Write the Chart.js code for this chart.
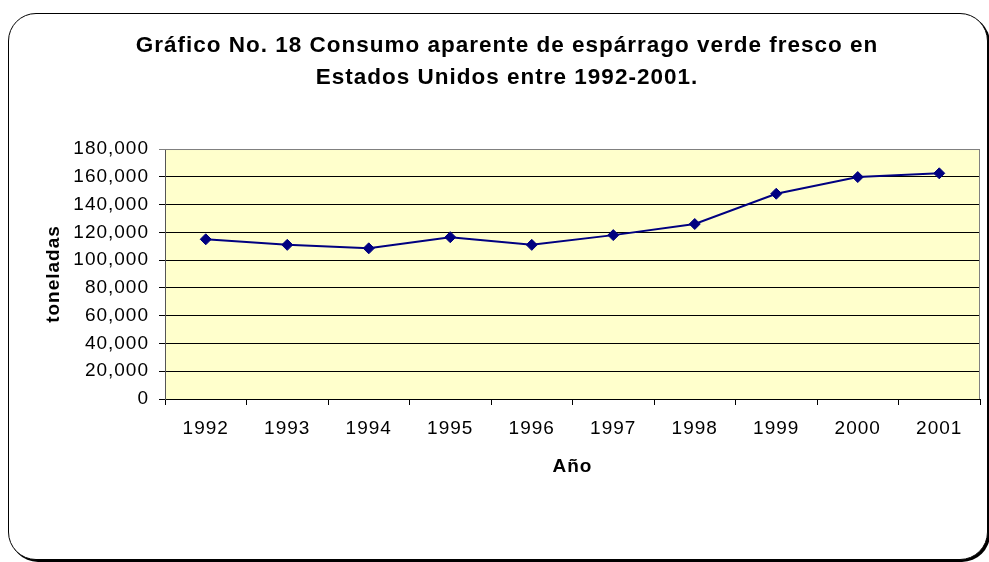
<!DOCTYPE html>
<html>
<head>
<meta charset="utf-8">
<script src="https://cdn.jsdelivr.net/npm/chart.js@4"></script>
<style>
    html, body { margin: 0; padding: 0; background: #fff; }
    body { width: 989px; height: 562px; position: relative; overflow: hidden; }
    #frame {
        position: absolute; left: 8px; top: 13px; width: 978px; height: 545px;
        border: 1px solid #000; border-radius: 28px; box-shadow: 2px 2px 0 #000;
        background: #fff;
    }
    #wrap { position: absolute; left: 0; top: 0; width: 989px; height: 562px; }
</style>
</head>
<body>
<div id="frame"></div>
<div id="wrap"><canvas id="consumoChart"></canvas></div>
<script>
const years = ["1992", "1993", "1994", "1995", "1996", "1997", "1998", "1999", "2000", "2001"];
const toneladas = [115000, 111000, 108500, 116500, 111000, 118000, 126000, 147800, 159800, 162500];
const titleLines = ["Gráfico No. 18 Consumo aparente de espárrago verde fresco en", "Estados Unidos entre 1992-2001."];

const fontFamily = "'Liberation Sans', Arial, sans-serif";

// plot area background + gray frame, like the excel plot area
const plotBackground = {
    id: "plotBackground",
    beforeDraw(chart) {
        const { ctx, chartArea } = chart;
        ctx.letterSpacing = "1px";
        ctx.save();
        ctx.fillStyle = "#FFFFCC";
        ctx.fillRect(chartArea.left, chartArea.top, chartArea.right - chartArea.left, chartArea.bottom - chartArea.top);
        ctx.restore();
    },
    afterDatasetsDraw(chart) {
        const { ctx, chartArea } = chart;
        ctx.save();
        ctx.strokeStyle = "#808080";
        ctx.lineWidth = 1;
        ctx.beginPath();
        ctx.moveTo(chartArea.left, chartArea.top + 0.5);
        ctx.lineTo(chartArea.right - 0.5, chartArea.top + 0.5);
        ctx.lineTo(chartArea.right - 0.5, chartArea.bottom);
        ctx.stroke();
        ctx.restore();
    }
};

const ctx = document.getElementById("consumoChart").getContext("2d");
const chart = new Chart(ctx, {
    type: "line",
    data: {
        labels: years,
        datasets: [
            {
                label: "toneladas",
                data: toneladas,
                borderColor: "#000080",
                backgroundColor: "#000080",
                borderWidth: 2,
                pointStyle: "rectRot",
                pointRadius: 5.5,
                pointBorderWidth: 1,
                fill: false,
                tension: 0,
            },
        ],
    },
    options: {
        responsive: true,
        maintainAspectRatio: false,
        animation: false,
        events: [],
        layout: { padding: { left: 34, right: 9, top: 0, bottom: 63 } },
        plugins: {
            legend: { display: false },
            tooltip: { enabled: false },
            title: {
                display: true,
                text: titleLines,
                color: "#000",
                font: { family: fontFamily, size: 22.5, weight: "bold", lineHeight: 1.436 },
                padding: { top: 29.5, bottom: 54.9 },
            },
        },
        scales: {
            x: {
                type: "category",
                offset: true,
                afterFit(scale) { scale.height = 100; },
                grid: {
                    display: true,
                    offset: true,
                    drawOnChartArea: false,
                    drawTicks: true,
                    tickLength: 6,
                    color: "#000",
                },
                border: { color: "#000", width: 1 },
                ticks: {
                    color: "#000",
                    padding: 12,
                    maxRotation: 0,
                    font: { family: fontFamily, size: 19 },
                },
                title: {
                    display: true,
                    text: "Año",
                    color: "#000",
                    font: { family: fontFamily, size: 19, weight: "bold" },
                    padding: { top: 0, bottom: 20.6 },
                },
            },
            y: {
                min: 0,
                max: 180000,
                afterFit(scale) { scale.width = 131; },
                grid: {
                    color: (c) => (c.tick && c.tick.value === 180000 ? "#808080" : "#000"),
                    drawTicks: true,
                    tickLength: 6,
                },
                border: { color: "#555", width: 1 },
                ticks: {
                    stepSize: 20000,
                    color: "#000",
                    padding: 10,
                    font: { family: fontFamily, size: 19 },
                    callback: (v) => v.toLocaleString("en-US"),
                },
                title: {
                    display: true,
                    text: "toneladas",
                    color: "#000",
                    font: { family: fontFamily, size: 19, weight: "bold" },
                    padding: { top: 8, bottom: 0 },
                },
            },
        },
    },
    plugins: [plotBackground],
});
</script>
</body>
</html>
